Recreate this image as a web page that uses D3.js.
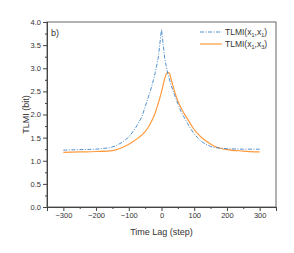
<!DOCTYPE html>
<html lang="en">
<head>
<meta charset="UTF-8" />
<title>TLMI</title>
<style>
  body { margin: 0; background: #fff; }
  text { font-family: 'Liberation Sans', Arial, sans-serif; fill: #333; }
</style>
</head>
<body>
<svg id="svg" width="294" height="253"></svg>
<script src="https://d3js.org/d3.v7.min.js"></script>
<script>
// lags (step) and values
const lags11 = [-300, -250, -200, -160, -140, -120, -100, -80, -60, -40, -30, -20, -10, 0,
  10, 20, 30, 40, 50, 60, 70, 80, 90, 100, 110, 120, 130, 140, 150, 160, 170, 200, 250, 300];
const tlmi11 = [1.23, 1.24, 1.25, 1.28, 1.32, 1.40, 1.51, 1.70, 1.95, 2.38, 2.60, 2.88, 3.22, 3.84,
  3.20, 2.86, 2.62, 2.42, 2.23, 2.06, 1.93, 1.80, 1.68, 1.58, 1.50, 1.43, 1.38, 1.34, 1.31, 1.29, 1.28, 1.26, 1.25, 1.25];

const lags13 = [-300, -250, -200, -150, -130, -110, -90, -70, -50, -40, -30, -20, -10, 0,
  10, 15, 20, 25, 30, 40, 50, 60, 70, 80, 90, 100, 110, 120, 130, 140, 150, 160, 170, 180, 200, 250, 300];
const tlmi13 = [1.18, 1.19, 1.20, 1.22, 1.26, 1.32, 1.40, 1.50, 1.63, 1.73, 1.86, 2.02, 2.24, 2.49,
  2.78, 2.88, 2.91, 2.88, 2.75, 2.50, 2.29, 2.14, 2.01, 1.90, 1.78, 1.67, 1.59, 1.52, 1.46, 1.41, 1.36, 1.32, 1.29, 1.27, 1.24, 1.21, 1.19];

const xTicks = [-300, -200, -100, 0, 100, 200, 300];
const yTicks = [0, 0.5, 1.0, 1.5, 2.0, 2.5, 3.0, 3.5, 4.0];

const svg = d3.select('#svg');
const mLeft = 47, mRight = 276, mTop = 22, mBottom = 207;

const x = d3.scaleLinear().domain([-350, 350]).range([mLeft, mRight]);
const y = d3.scaleLinear().domain([0, 4]).range([mBottom, mTop]);

// frame
svg.append('rect')
  .attr('x', mLeft).attr('y', mTop)
  .attr('width', mRight - mLeft).attr('height', mBottom - mTop)
  .attr('fill', 'none').attr('stroke', '#666').attr('stroke-width', 1);

// axes
svg.append('g').attr('transform', `translate(0,${mBottom})`)
  .call(d3.axisBottom(x).tickValues(xTicks).tickSize(4).tickPadding(2).tickFormat(d3.format('d')));
svg.append('g').attr('transform', `translate(0,${mBottom})`)
  .call(d3.axisBottom(x).tickValues(d3.range(-350, 351, 50).filter(v => v % 100 !== 0)).tickSize(2).tickFormat(''));
svg.append('g').attr('transform', `translate(${mLeft},0)`)
  .call(d3.axisLeft(y).tickValues(yTicks).tickSize(4).tickPadding(2).tickFormat(d3.format('.1f')));
svg.append('g').attr('transform', `translate(${mLeft},0)`)
  .call(d3.axisLeft(y).tickValues(d3.range(0.25, 4, 0.5)).tickSize(2).tickFormat(''));

svg.selectAll('.domain').attr('stroke', '#444');
svg.selectAll('.tick line').attr('stroke', '#444');
svg.selectAll('.tick text').style('font-size', '7.5px').style('fill', '#333')
  .style('font-family', "'Liberation Sans', Arial, sans-serif");

// lines
const line = d3.line().x(d => x(d[0])).y(d => y(d[1]));
svg.append('path')
  .datum(d3.zip(lags13, tlmi13))
  .attr('d', line.curve(d3.curveMonotoneX))
  .attr('fill', 'none').attr('stroke', '#ff9a3c').attr('stroke-width', 1.2);
svg.append('path')
  .datum(d3.zip(lags11, tlmi11))
  .attr('d', line.curve(d3.curveLinear))
  .attr('fill', 'none').attr('stroke', '#3f86c8').attr('stroke-width', 0.9)
  .attr('stroke-dasharray', '4,1.5,1,1.5');

// panel label
svg.append('text').attr('x', 51).attr('y', 36).style('font-size', '9px').text('b)');

// legend
const legend = [
  { color: '#3f86c8', dash: '4,1.5,1,1.5', sub: ['1', '1'] },
  { color: '#ff9a3c', dash: null, sub: ['1', '3'] }
];
legend.forEach((l, i) => {
  const ly = 32 + i * 12;
  svg.append('line')
    .attr('x1', 200).attr('x2', 222).attr('y1', ly).attr('y2', ly)
    .attr('stroke', l.color).attr('stroke-width', l.dash ? 0.9 : 1.2)
    .attr('stroke-dasharray', l.dash);
  const t = svg.append('text').attr('x', 225).attr('y', ly + 3).style('font-size', '8.5px');
  t.append('tspan').text('TLMI(x');
  t.append('tspan').attr('dy', 2).style('font-size', '5.5px').text(l.sub[0]);
  t.append('tspan').attr('dy', -2).text(',x');
  t.append('tspan').attr('dy', 2).style('font-size', '5.5px').text(l.sub[1]);
  t.append('tspan').attr('dy', -2).text(')');
});

// axis titles
svg.append('text')
  .attr('x', (mLeft + mRight) / 2).attr('y', 235)
  .attr('text-anchor', 'middle').style('font-size', '9px')
  .text('Time Lag (step)');
svg.append('text')
  .attr('transform', `translate(29,${(mTop + mBottom) / 2}) rotate(-90)`)
  .attr('text-anchor', 'middle').style('font-size', '9px')
  .text('TLMI (bit)');
</script>
</body>
</html>
